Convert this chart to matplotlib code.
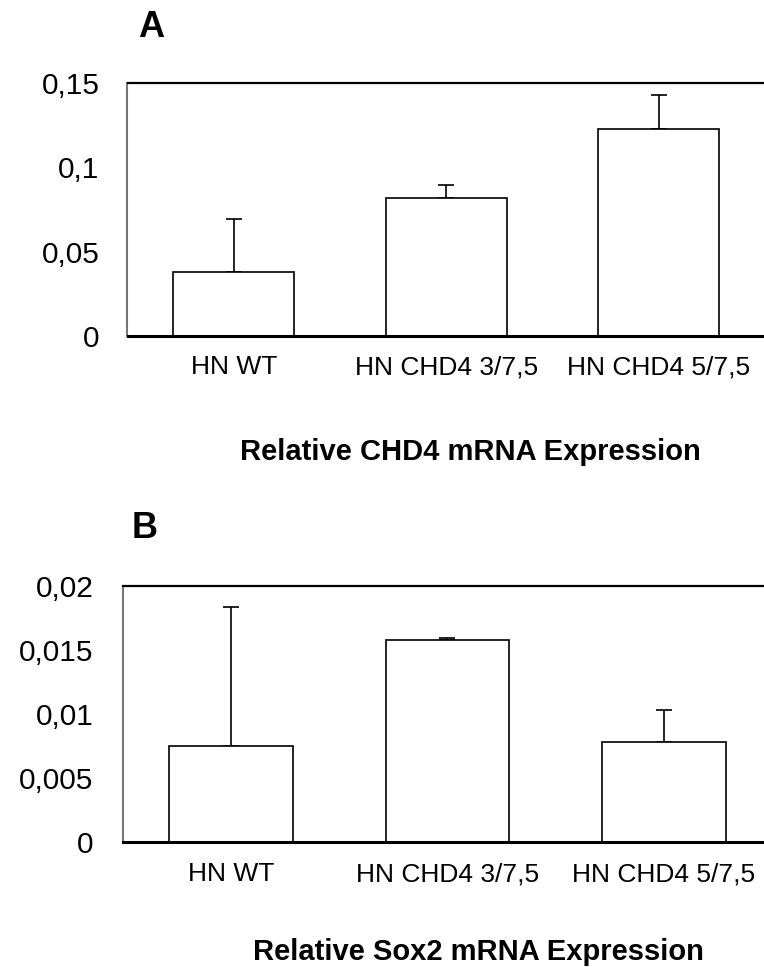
import numpy as np
import matplotlib.pyplot as plt

plt.rcParams['font.family'] = ['Liberation Sans', 'DejaVu Sans']

groups = ['HN WT', 'HN CHD4 3/7,5', 'HN CHD4 5/7,5']
chd4_mean = [0.038, 0.082, 0.1225]
chd4_err = [0.031, 0.0072, 0.020]
sox2_mean = [0.0075, 0.0158, 0.0078]
sox2_err = [0.0108, 0.0001, 0.0025]

chd4_ticks = [0, 0.05, 0.1, 0.15]
chd4_ticklabels = ['0', '0,05', '0,1', '0,15']
sox2_ticks = [0, 0.005, 0.01, 0.015, 0.02]
sox2_ticklabels = ['0', '0,005', '0,01', '0,015', '0,02']

W, H = 764, 967
fig = plt.figure(figsize=(W / 100, H / 100), dpi=100)
ax1 = fig.add_axes([127.5 / W, 1 - 336 / H, 637.5 / W, (336 - 82.7) / H])
ax2 = fig.add_axes([122.7 / W, 1 - 842 / H, 649.5 / W, (842 - 585.7) / H])

x = np.arange(len(groups))


def draw(ax, means, errs, ticks, ticklabels, ymax, xpad, ypad):
    ax.bar(x, means, width=0.57, color='white', edgecolor='black', linewidth=1.2, zorder=2)
    ax.errorbar(x, means, yerr=[np.zeros(len(errs)), errs], fmt='none', ecolor='black',
                elinewidth=1.2, capsize=5.5, capthick=1.2, zorder=1)
    ax.set_xlim(-0.5, 2.5)
    ax.set_ylim(0, ymax)
    ax.set_yticks(ticks)
    ax.set_yticklabels(ticklabels, fontsize=21.5)
    ax.set_xticks(x)
    ax.set_xticklabels(groups, fontsize=19)
    ax.tick_params(axis='both', length=0)
    ax.tick_params(axis='x', pad=xpad)
    ax.tick_params(axis='y', pad=ypad)
    ax.spines['left'].set_color('#777777')
    ax.spines['left'].set_linewidth(1.5)
    ax.spines['bottom'].set_linewidth(2.2)
    ax.spines['top'].set_linewidth(1.6)
    ax.spines['right'].set_visible(False)


draw(ax1, chd4_mean, chd4_err, chd4_ticks, chd4_ticklabels, 0.15, 14, 20)
draw(ax2, sox2_mean, sox2_err, sox2_ticks, sox2_ticklabels, 0.02, 14.5, 21)

fig.text(150.7 / W, 1 - 37.3 / H, 'A', fontsize=26, weight='bold', ha='center', va='baseline')
fig.text(145 / W, 1 - 538.3 / H, 'B', fontsize=26, weight='bold', ha='center', va='baseline')
fig.text(470.7 / W, 1 - 460 / H, 'Relative CHD4 mRNA Expression', fontsize=21, weight='bold',
         ha='center', va='baseline')
fig.text(478 / W, 1 - 960 / H, 'Relative Sox2 mRNA Expression', fontsize=21, weight='bold',
         ha='center', va='baseline')

plt.savefig('out.png', dpi=100)
